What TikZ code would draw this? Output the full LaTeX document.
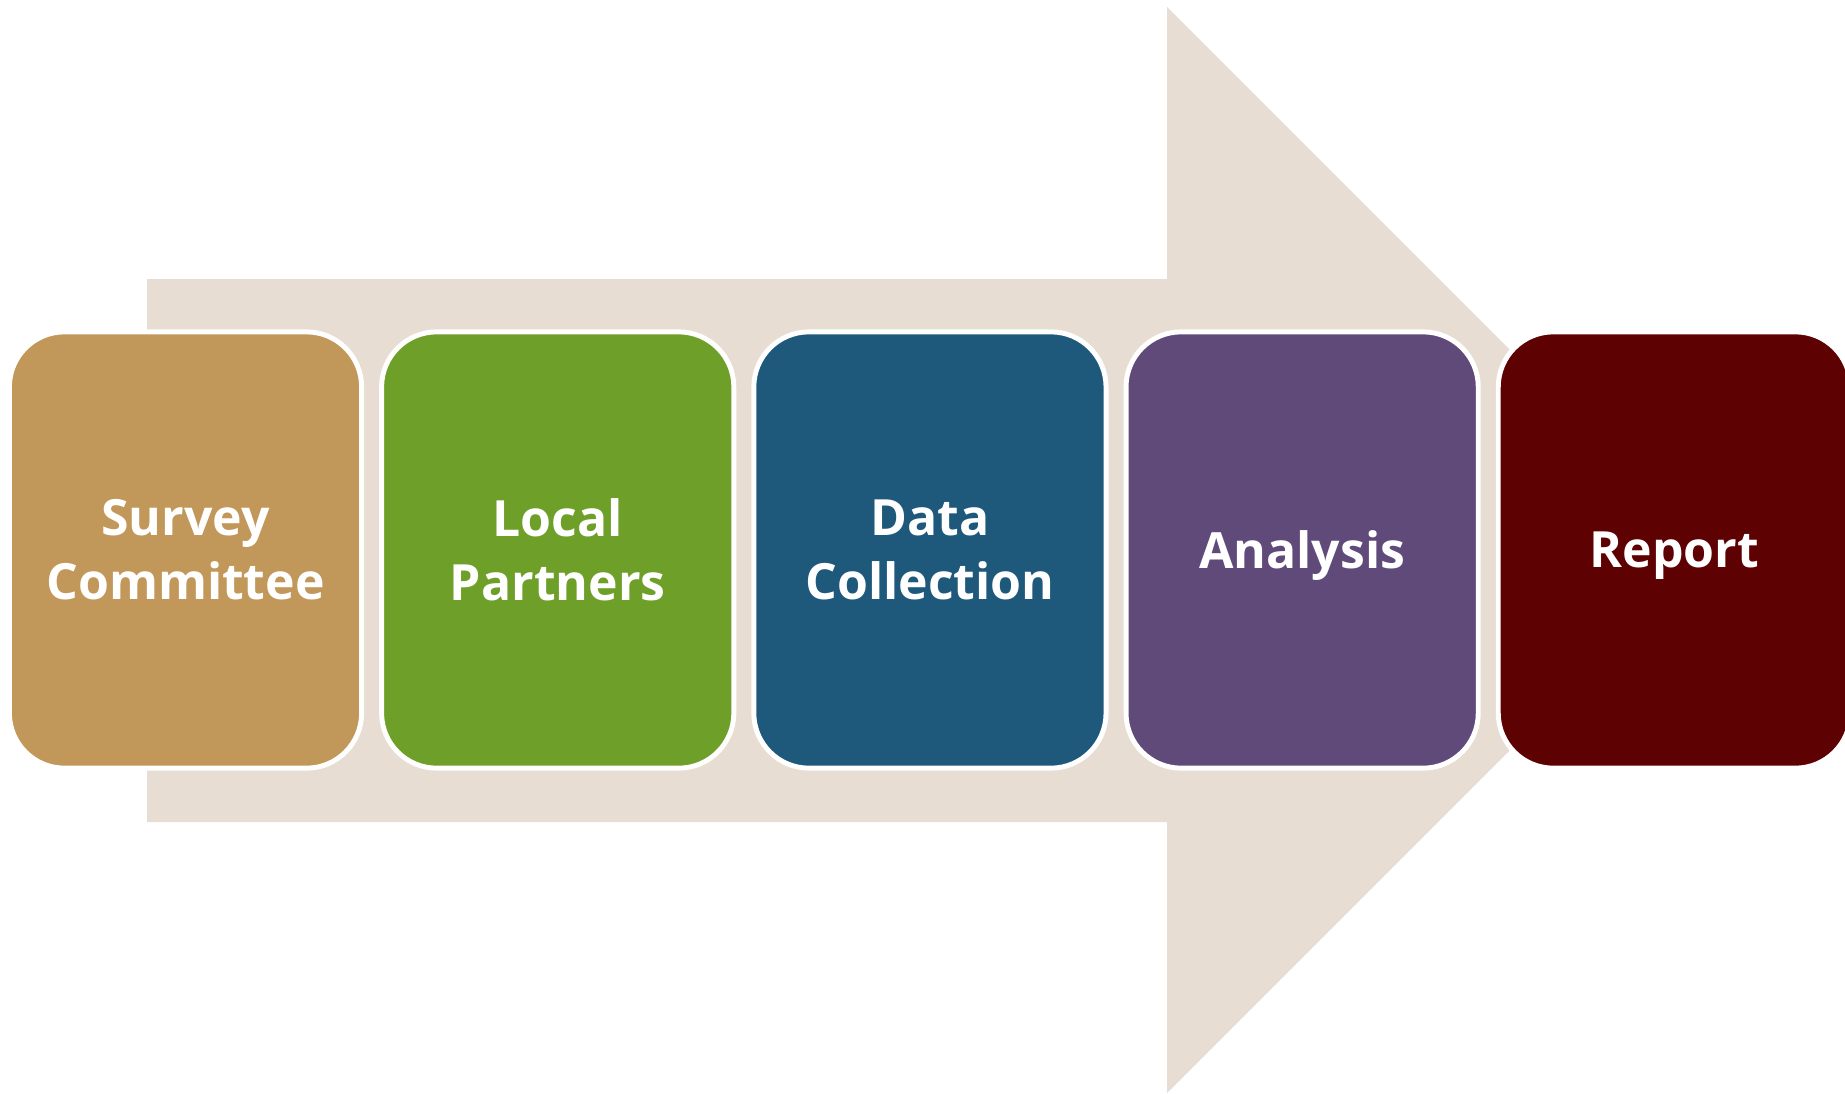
\documentclass[tikz,border=0pt]{standalone}
\usepackage{fontspec}
\setmainfont{Open Sans}
\usetikzlibrary{positioning}

\definecolor{arrowbg}{HTML}{E8DDD2}
\definecolor{stepA}{HTML}{C19859}
\definecolor{stepB}{HTML}{6E9F28}
\definecolor{stepC}{HTML}{1E587B}
\definecolor{stepD}{HTML}{5F4A79}
\definecolor{stepE}{HTML}{5E0103}

\tikzset{
  stage/.style={rectangle, rounded corners=0.55cm, draw=white, line width=1.4pt,
    minimum width=3.52cm, minimum height=4.36cm, outer sep=0pt, align=center,
    text=white, font=\fontsize{14.2}{18.2}\selectfont\bfseries},
  oneline/.style={text depth=0pt}
}

\begin{document}
\begin{tikzpicture}[x=0.01cm,y=-0.01cm]
                \useasboundingbox (0,0) rectangle (1845,1093);
                % big background arrow
                \fill[arrowbg] (147,279) -- (1167,279) -- (1167,7) -- (1710,550)
                  -- (1167,1093) -- (1167,822) -- (147,822) -- cycle;
                % the five stages
                \node[stage, fill=stepA] (committee) at (185.5,550) {Survey\\Committee};
                \node[stage, fill=stepB, right=0.2cm of committee] (partners) {Local\\Partners};
                \node[stage, fill=stepC, right=0.2cm of partners] (collection) {Data\\Collection};
                \node[stage, oneline, fill=stepD, right=0.2cm of collection] (analysis) {Analysis};
                \node[stage, oneline, fill=stepE, right=0.2cm of analysis] (report) {Report};
            \end{tikzpicture}
\end{document}
